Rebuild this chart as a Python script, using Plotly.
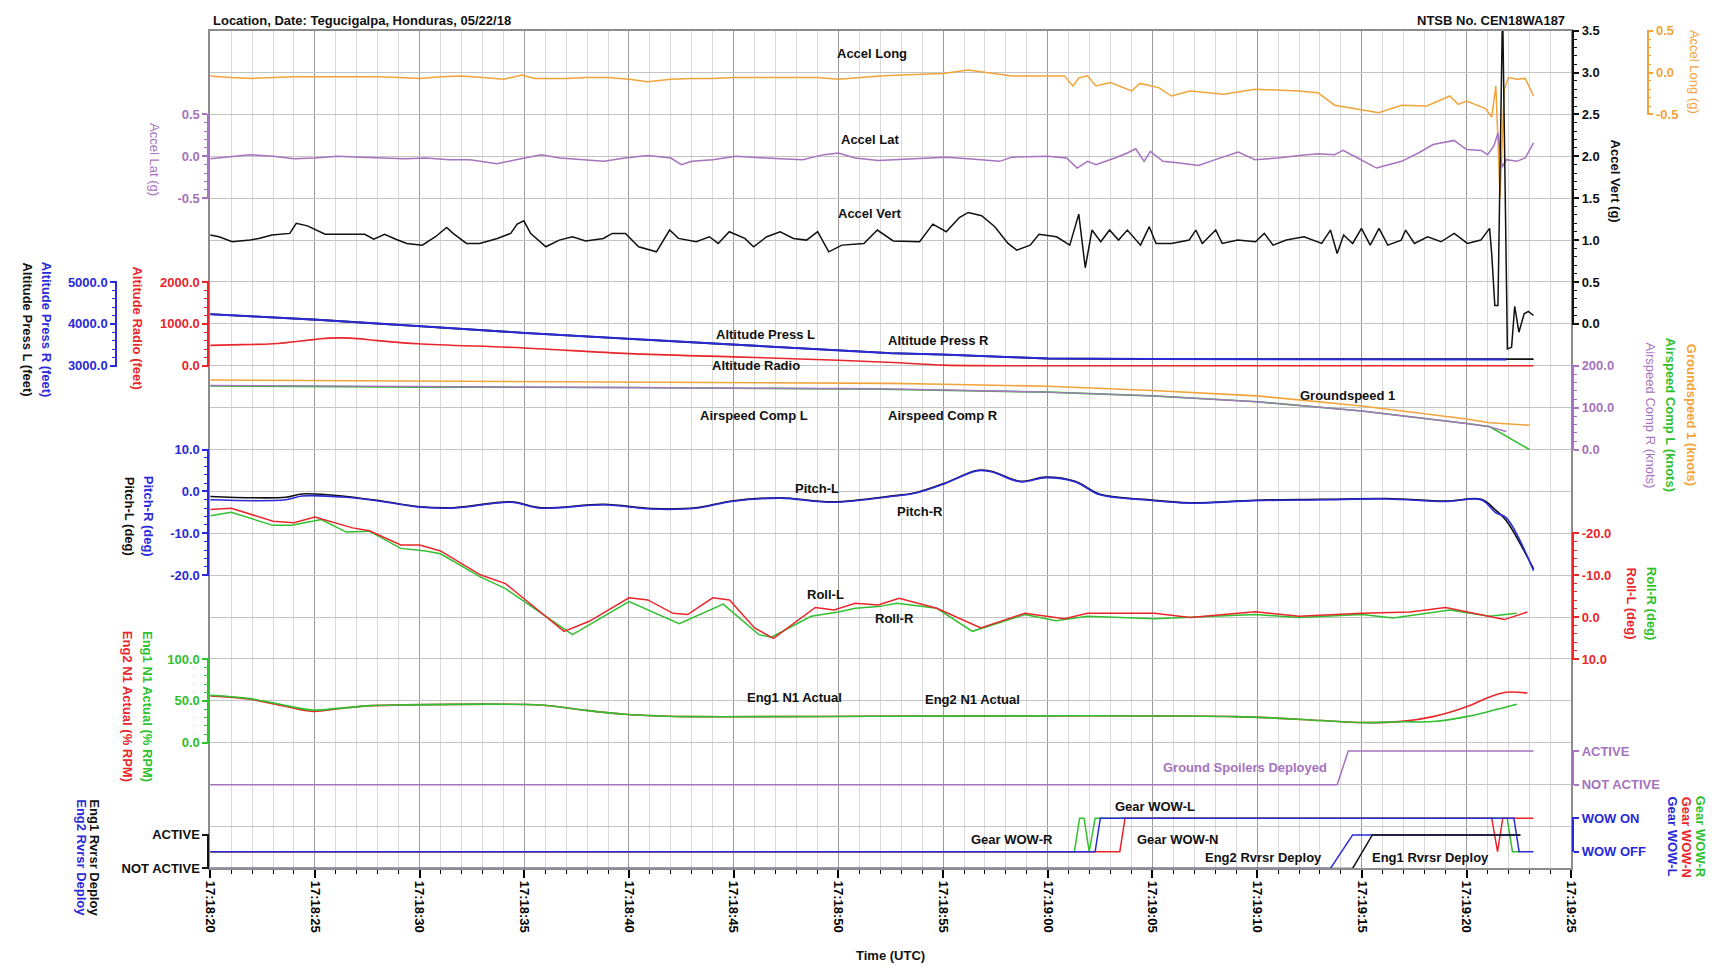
import plotly.graph_objects as go
import pandas as pd

# ---------------- data (time in seconds after 17:18:20 UTC) ----------------
BASE = "2018-05-22 17:18:20"
END = "2018-05-22 17:19:25"

accel_long_t = [0,1,2,3,4,5,6,7,8,9,10,11,12,13,14,14.9,15.5,16,17,18,19,20,20.9,22,23,24,25,26,27,28,29,30,31,32,
                33,34.1,35,36.2,37,38.3,39,40.8,41.2,41.5,41.9,42.3,43,44,44.4,45.3,45.9,46.8,48.4,49.9,52,52.9,53.7,
                55,55.8,56.9,58.1,59.2,59.6,60,60.9,61.2,61.4,61.6,61.8,62,62.4,62.8,63.2]
accel_long = [-0.04,-0.06,-0.07,-0.06,-0.05,-0.05,-0.05,-0.05,-0.05,-0.06,-0.07,-0.05,-0.04,-0.06,-0.08,-0.03,-0.07,
              -0.07,-0.07,-0.06,-0.06,-0.08,-0.11,-0.08,-0.07,-0.07,-0.06,-0.06,-0.06,-0.06,-0.06,-0.08,-0.06,-0.04,
              -0.03,-0.02,-0.01,0.03,0.0,-0.04,-0.04,-0.04,-0.16,-0.06,-0.04,-0.16,-0.12,-0.22,-0.13,-0.18,-0.28,-0.22,
              -0.26,-0.2,-0.22,-0.24,-0.39,-0.45,-0.48,-0.39,-0.40,-0.28,-0.38,-0.34,-0.43,-0.53,-0.16,-1.49,-0.2,-0.06,
              -0.08,-0.07,-0.28]

accel_lat_t = [0,1.05,1.9,3,4,5,6.1,7.2,8.2,9.3,10.3,11.4,12.4,13.7,14.6,15.8,16.7,17.7,18.8,19.8,20.9,22,22.5,23,24,
               25.1,26.2,27.2,28.3,29.3,30,30.8,31.9,32.7,34.1,35.1,36.2,37.7,38.3,40,40.9,41.4,41.9,42.3,43.2,43.8,
               44.2,44.6,44.9,45.5,46.3,47.2,48,49.1,49.9,51,52,52.9,53.7,54.1,54.8,55.7,56.9,57.7,58.4,59.4,60,60.7,
               61,61.3,61.5,61.7,61.9,62.4,62.8,63.2]
accel_lat = [-0.03,0.00,0.02,0.00,-0.03,-0.02,0.00,-0.01,-0.02,-0.03,-0.02,-0.04,-0.04,-0.09,-0.04,0.02,-0.02,-0.04,
             -0.06,-0.02,0.01,-0.02,-0.10,-0.06,-0.04,0.00,-0.02,-0.03,-0.04,0.02,0.04,-0.02,-0.05,-0.04,-0.02,-0.01,
             -0.03,-0.06,-0.01,0.00,-0.02,-0.14,-0.06,-0.10,-0.02,0.04,0.09,-0.06,0.06,-0.06,-0.08,-0.11,-0.04,0.05,
             -0.04,-0.02,0.01,0.03,0.02,0.07,-0.02,-0.14,-0.06,0.04,0.14,0.19,0.08,0.07,0.02,0.12,0.28,-0.13,-0.04,
             -0.06,-0.02,0.16]

accel_vert_t = [0,0.42,1.05,1.9,2.32,2.95,3.8,4.11,4.64,5.27,5.49,6.12,7.38,7.81,8.33,8.86,9.39,10.13,10.76,11.29,
                11.6,12.24,12.87,13.71,14.35,14.66,14.98,15.3,16.03,16.67,17.3,17.93,18.78,19.2,19.83,20.46,21.31,
                21.94,22.36,23.21,23.84,24.26,24.79,25.53,25.95,26.58,27.22,27.85,28.48,29.01,29.54,30.17,31.22,31.86,
                32.62,33.88,34.51,35.15,35.78,36.2,36.84,37.47,38.1,38.52,39.16,39.58,40.42,41.05,41.48,41.79,42.11,
                42.53,42.95,43.38,43.8,44.43,44.85,45.17,45.91,46.75,47.07,47.38,48.02,48.33,49.07,49.92,50.34,50.76,
                51.39,52.24,53.08,53.5,53.82,54.13,54.56,54.98,55.4,55.82,56.24,56.88,57.09,57.51,58.14,58.78,59.41,
                60.04,60.68,61.1,61.2,61.35,61.5,61.72,61.95,62.15,62.3,62.5,62.75,62.95,63.2]
accel_vert = [1.06,1.04,0.98,1.0,1.02,1.06,1.08,1.2,1.17,1.1,1.07,1.07,1.07,1.01,1.07,1.01,0.96,0.94,1.04,1.15,
              1.08,0.96,0.96,1.02,1.08,1.19,1.23,1.08,0.92,1.0,1.04,0.99,1.02,1.08,1.08,0.92,0.86,1.12,1.02,0.98,
              1.04,0.96,1.1,1.02,0.92,1.04,1.1,1.02,1.0,1.1,0.86,0.94,0.96,1.12,0.99,0.98,1.19,1.1,1.27,1.33,
              1.29,1.16,0.96,0.88,0.94,1.07,1.04,0.94,1.31,0.67,1.12,0.98,1.12,1.0,1.12,0.94,1.16,0.96,0.96,1.0,
              1.12,0.96,1.12,0.96,1.0,0.98,1.08,0.94,1.0,1.04,0.96,1.12,0.84,1.06,0.96,1.14,0.94,1.14,0.94,1.0,
              1.12,0.96,1.04,0.98,1.08,0.96,1.0,1.14,0.84,0.22,0.22,3.8,-0.3,-0.28,0.21,-0.1,0.12,0.15,0.1]

press_t = [0,5.1,10.1,15,20,25.1,30,32.5,35,38.3,40,45,50,55,60,61.9]
press_r = [4232,4098,3941,3784,3643,3502,3369,3300,3267,3196,3173,3160,3157,3157,3157,3150]
press_l_t = [0,5.1,10.1,15,20,25.1,30,32.5,35,38.3,40,45,50,55,60,61.9,63.2]
press_l = [4232,4098,3941,3784,3643,3502,3369,3300,3267,3196,3173,3160,3157,3157,3157,3157,3157]

radio_t = [0,1.5,3,5.7,6.7,8,9.9,15,20,25,30,32.9,35,40,63.2]
radio = [486,505,525,659,659,600,525,424,290,212,133,71,16,0,0]

gs_t = [0,10,20,32.5,35,40,45,50,55,60,61.1,63]
groundspeed = [166,164,162,158,156,151,141,128,104,73,64,58]
as_r_t = [0,10,20,30,32,40,45,50,55,60,61.1,61.9]
airspeed_r = [153,150,148,145,145,137,128,114,92,62,54,43]
as_l_t = [0,10,20,30,32,40,45,50,55,60,61.1,63]
airspeed_l = [152,149,148,145,144,137,128,114,92,62,55,0]

pitch_t = [0,3.6,4.4,6.5,8.2,9.9,11.6,14.35,15.8,18.8,21.1,23.2,24.9,27.2,29.75,32.7,33.7,35.1,36.6,37.3,
           38.7,39.9,41.3,42.5,44.6,46.8,49.9,53.1,56.2,59,60.7,61.4,61.9,63.2]
pitch_r = [-2.0,-2.0,-1.1,-1.4,-2.4,-3.7,-4.0,-2.6,-4.0,-3.2,-4.2,-4.0,-2.4,-1.6,-2.6,-1.1,-0.4,1.9,4.9,4.7,
           2.3,3.3,2.3,-0.8,-2.0,-2.8,-2.2,-2.0,-1.8,-2.4,-2.0,-5.1,-6.3,-18.9]
pitch_l = [-1.2,-1.4,-0.6,-1.2,-2.3,-3.6,-3.9,-2.5,-3.9,-3.1,-4.1,-3.9,-2.3,-1.5,-2.5,-1.0,-0.3,2.0,5.0,4.8,
           2.4,3.4,2.4,-0.7,-1.9,-2.7,-2.1,-1.9,-1.7,-2.3,-1.9,-4.5,-7.0,-18.5]

roll_l_t = [0,1,3,4,5,6.8,7.6,9.1,10,11,12.9,14.1,16.9,18.1,20,20.9,22.1,22.8,24,24.8,26,26.9,28.9,29.8,30.8,
            31.9,32.9,34.7,36.8,38.9,40.8,41.9,45.1,46.8,49.9,52,55,57.3,59,60,61.8,62.9]
roll_l = [-25.7,-26.0,-22.9,-22.5,-23.9,-21.3,-20.6,-17.2,-17.2,-15.8,-10.1,-8.0,3.4,1.0,-4.6,-4.1,-0.9,-0.6,
          -4.6,-4.1,2.6,5.1,-2.3,-1.7,-3.3,-2.9,-4.5,-2.1,2.6,-0.9,0.4,-0.9,-0.9,0.1,-1.3,-0.2,-0.9,-1.2,-2.3,
          -1.3,0.6,-1.2]
roll_r_t = [0,1,3,3.9,5.3,6.5,7.6,9.1,10.3,11,12.9,14.1,17.3,20,22.4,24.5,26.2,26.8,28.7,30,30.8,31.9,32.8,
            34.7,36.4,38.9,40.4,41.9,45.1,49.9,52,55,56.5,59.2,61.1,62.4]
roll_r = [-24.2,-25.0,-21.9,-21.9,-23.3,-20.3,-20.5,-16.4,-15.8,-15.1,-9.6,-6.8,4.2,-3.7,1.6,-3.1,4.2,4.8,
          -0.2,-1.2,-2.1,-2.5,-3.3,-2.1,3.4,-0.6,0.9,-0.2,0.4,-0.6,0.1,-0.6,0.2,-1.7,-0.2,-0.9]

n1_eng1_t = [0,1.9,3.5,4.9,6.1,7.5,8.9,15.8,17.5,19.8,21.5,23,48.9,53.1,55,56.9,58.4,60,61.5,62.4]
n1_eng1 = [56.7,52.7,45,39,41,44,45,45,40,34,32,31.2,31.2,26.5,24.1,25,25.3,31.2,40.2,46]
n1_eng2_t = [0,1.9,3.5,4.9,6.1,7.5,8.9,15.8,17.5,19.8,21.5,23,48.9,53.1,55,56.9,58.4,60,61.1,61.9,62.9]
n1_eng2 = [56,52,44,37.5,40.5,44,45,45,40,34,32,31.2,31.2,26.5,24.1,25.5,31.2,43,54.7,60.3,59.4]

spoiler_t = [0,53.82,54.35,63.2]
spoiler = [0,0,1,1]

wow_r_t = [0,41.27,41.52,41.73,41.98,42.26,61.94,62.19,62.5]
wow_r = [0,0,1,1,0,1,1,0,0]
wow_n_t = [0,43.44,43.69,61.2,61.48,61.73,63.2]
wow_n = [0,0,1,1,0,1,1]
wow_l_t = [0,42.26,42.51,62.26,62.51,63.2]
wow_l = [0,0,1,1,0,0]

rev2_t = [0,53.5,54.56,62.57]
rev2 = [0,0,1,1]
rev1_t = [0,54.56,55.5,62.57]
rev1 = [0,0,1,1]

# ---------------- styling / geometry ----------------
W, H = 1722, 972
X0, X1 = 205, 1578
Y_TOP, Y_BOT = 24, 874
NG = 20
GS = (Y_BOT - Y_TOP) / NG
FONT = "Liberation Sans, Arial, sans-serif"

ORANGE = "#F2A43A"
PURPLE = "#A673BE"
BLACK = "#111111"
BLUE = "#2A2AD8"
RED = "#E8262B"
GREEN = "#30C030"

def gp(g):
    return (H - Y_BOT + g * GS) / H

def ts(sec):
    b = pd.Timestamp(BASE)
    return [(b + pd.Timedelta(seconds=float(s))).strftime("%Y-%m-%d %H:%M:%S.%f")[:-3] for s in sec]

# scale: (grid row of reference, reference value, units per grid row)
scales = dict(
    long=(19, 0.0, 0.5), lat=(17, 0.0, 0.5), vert=(13, 0.0, 0.5),
    press=(12, 3000.0, 1000.0), radio=(12, 0.0, 1000.0), speed=(10, 0.0, 100.0),
    pitch=(9, 0.0, 10.0), roll=(6, 0.0, -10.0), n1=(3, 0.0, 50.0),
    spoil=(2, 0.0, 1.25), wow=(0.4, 0.0, 1.25), rev=(0, 0.0, 1.25))

def val(key, g):
    gr, vr, u = scales[key]
    return vr + (g - gr) * u

fig = go.Figure()
layout = {}

layout["xaxis"] = dict(
    type="date", domain=[X0 / W, X1 / W], range=[BASE, END], anchor="y",
    tickmode="linear", tick0=BASE, dtick=5000, tickformat="%H:%M:%S", tickangle=90,
    ticks="outside", ticklen=8, tickcolor="black", tickwidth=1.5,
    tickfont=dict(family=FONT, size=13, color="black", weight="bold"),
    showgrid=True, gridcolor="#9c9c9c", gridwidth=1.3,
    minor=dict(tick0=BASE, dtick=1000, showgrid=True, gridcolor="#dadada", gridwidth=1,
               ticks="outside", ticklen=4, tickcolor="black", tickwidth=1.2),
    showline=True, linecolor="#8c8c8c", linewidth=1.5, mirror=True, zeroline=False, fixedrange=True)
layout["xaxis2"] = dict(type="date", domain=[X0 / W, X1 / W], range=[BASE, END], anchor="y",
                        visible=False, showgrid=False, fixedrange=True)
layout["yaxis"] = dict(
    domain=[gp(0), gp(NG)], range=[0, NG], tickmode="linear", tick0=0, dtick=1,
    showgrid=True, gridcolor="#c4c4c4", gridwidth=1, showticklabels=False, ticks="",
    showline=True, linecolor="#8c8c8c", linewidth=1.5, mirror=True, zeroline=False, fixedrange=True)

# hidden data axes, one per scale
data_ax = {}
n = 2
for key in scales:
    layout["yaxis%d" % n] = dict(overlaying="y", anchor="x", range=[val(key, 0), val(key, NG)],
                                 visible=False, showgrid=False, zeroline=False, fixedrange=True)
    data_ax[key] = "y%d" % n
    n += 1

def fmt(v, d=1):
    return ("%." + str(d) + "f") % v

# visible scale brackets
disp = [
    ("lat", 16, 18, "left", 203, PURPLE, [-0.5, 0, 0.5], None, 0.1),
    ("radio", 12, 14, "left", 203, RED, [0, 1000, 2000], None, 200),
    ("press", 12, 14, "left", 110, BLUE, [3000, 4000, 5000], None, 200),
    ("pitch", 7, 10, "left", 203, BLUE, [-20, -10, 0, 10], None, 2),
    ("n1", 3, 5, "left", 203, GREEN, [0, 50, 100], None, 10),
    ("rev", 0, 0.8, "left", 203, BLACK, [0, 1], ["NOT ACTIVE", "ACTIVE"], None),
    ("vert", 13, 20, "right", 1580, BLACK, [0, 0.5, 1, 1.5, 2, 2.5, 3, 3.5], None, 0.1),
    ("long", 18, 20, "right", 1655, ORANGE, [-0.5, 0, 0.5], None, 0.1),
    ("speed", 10, 12, "right", 1580, PURPLE, [0, 100, 200], None, 20),
    ("roll", 5, 8, "right", 1580, RED, [-20, -10, 0, 10], None, 2),
    ("spoil", 2, 2.8, "right", 1580, PURPLE, [0, 1], ["NOT ACTIVE", "ACTIVE"], None),
    ("wow", 0.4, 1.2, "right", 1580, BLUE, [0, 1], ["WOW OFF", "WOW ON"], None),
]
e = 0.02
for key, glo, ghi, side, xpx, col, tv, tt, mdt in disp:
    ax = dict(
        anchor="free", position=xpx / W, side=side,
        domain=[gp(glo - e), gp(ghi + e)], range=[val(key, glo - e), val(key, ghi + e)],
        showline=True, linecolor=col, linewidth=1.6, showgrid=False, zeroline=False,
        ticks="outside", ticklen=5, tickwidth=1.5, tickcolor=col,
        tickmode="array", tickvals=tv, ticktext=tt if tt else [fmt(v) for v in tv],
        tickfont=dict(family=FONT, size=13, color=col, weight="bold"), fixedrange=True)
    if mdt:
        ax["minor"] = dict(ticks="outside", ticklen=3, tickcolor=col, tickwidth=1, tick0=0, dtick=mdt)
    layout["yaxis%d" % n] = ax
    fig.add_trace(go.Scatter(x=ts([0]), y=[None], xaxis="x2", yaxis="y%d" % n, mode="lines",
                             showlegend=False, hoverinfo="skip"))
    n += 1

def line(t, v, key, col, width=1.5, shape="linear"):
    fig.add_trace(go.Scatter(x=ts(t), y=v, xaxis="x", yaxis=data_ax[key], mode="lines",
                             line=dict(color=col, width=width, shape=shape),
                             showlegend=False, hoverinfo="skip"))

fig.add_trace(go.Scatter(x=ts([0]), y=[None], xaxis="x", yaxis="y", mode="lines",
                         showlegend=False, hoverinfo="skip"))

line(press_l_t, press_l, "press", BLACK, 1.8)
line(press_t, press_r, "press", BLUE, 2.0)
line(radio_t, radio, "radio", RED, 1.6, "spline")
line(gs_t, groundspeed, "speed", ORANGE, 1.6)
line(as_l_t, airspeed_l, "speed", GREEN, 1.6)
line(as_r_t, airspeed_r, "speed", PURPLE, 1.4)
line(pitch_t, pitch_l, "pitch", BLACK, 1.6, "spline")
line(pitch_t, pitch_r, "pitch", BLUE, 1.6, "spline")
line(roll_r_t, roll_r, "roll", GREEN, 1.5)
line(roll_l_t, roll_l, "roll", RED, 1.5)
line(n1_eng2_t, n1_eng2, "n1", RED, 1.6, "spline")
line(n1_eng1_t, n1_eng1, "n1", GREEN, 1.6, "spline")
line(spoiler_t, spoiler, "spoil", PURPLE, 1.5)
line(rev2_t, rev2, "rev", BLUE, 1.5)
line(rev1_t, rev1, "rev", BLACK, 1.5)
line(wow_r_t, wow_r, "wow", GREEN, 1.5)
line(wow_n_t, wow_n, "wow", RED, 1.5)
line(wow_l_t, wow_l, "wow", BLUE, 1.5)
line(accel_long_t, accel_long, "long", ORANGE, 1.5)
line(accel_lat_t, accel_lat, "lat", PURPLE, 1.5)
line(accel_vert_t, accel_vert, "vert", BLACK, 1.5)

ann = []
def txt(x, y, s, col=BLACK, size=13, xref="paper", yref="paper", angle=0, xa="center", bold=True):
    ann.append(dict(x=x, y=y, xref=xref, yref=yref, text=s, showarrow=False, textangle=angle,
                    xanchor=xa, yanchor="middle",
                    font=dict(family=FONT, size=size, color=col, weight="bold" if bold else "normal")))

# header and footer
txt(206 / W, 1 - 14 / H, "Location, Date: Tegucigalpa, Honduras, 05/22/18", xa="left")
txt(1574 / W, 1 - 14 / H, "NTSB No. CEN18WA187", xa="right")
txt((X0 + X1) / 2 / W, 1 - 962 / H, "Time (UTC)")

# in-plot parameter labels (time seconds, grid row)
labels = [
    (31.6, 19.46, "Accel Long", BLACK), (31.5, 17.4, "Accel Lat", BLACK), (31.5, 15.64, "Accel Vert", BLACK),
    (26.5, 12.75, "Altitude Press L", BLACK), (34.8, 12.6, "Altitude Press R", BLACK),
    (26.05, 12.0, "Altitude Radio", BLACK), (54.3, 11.28, "Groundspeed 1", BLACK),
    (25.95, 10.81, "Airspeed Comp L", BLACK), (35.0, 10.81, "Airspeed Comp R", BLACK),
    (29.0, 9.08, "Pitch-L", BLACK), (33.9, 8.52, "Pitch-R", BLACK),
    (29.4, 6.55, "Roll-L", BLACK), (32.7, 5.96, "Roll-R", BLACK),
    (27.9, 4.08, "Eng1 N1 Actual", BLACK), (36.4, 4.03, "Eng2 N1 Actual", BLACK),
    (49.4, 2.4, "Ground Spoilers Deployed", PURPLE),
    (45.1, 1.47, "Gear WOW-L", BLACK), (38.3, 0.70, "Gear WOW-R", BLACK), (46.2, 0.70, "Gear WOW-N", BLACK),
    (50.3, 0.26, "Eng2 Rvrsr Deploy", BLACK), (58.3, 0.26, "Eng1 Rvrsr Deploy", BLACK),
]
for t, g, s, c in labels:
    txt(ts([t])[0], g, s, c, xref="x", yref="y")

# axis titles (rotated, reading downward)
titles = [
    (149, 155, "Accel Lat (g)", PURPLE, False),
    (40, 327, "Altitude Press R (feet)", BLUE, True),
    (21, 327, "Altitude Press L (feet)", BLACK, True),
    (132, 326, "Altitude Radio (feet)", RED, True),
    (143, 517, "Pitch-R (deg)", BLUE, True),
    (124, 517, "Pitch-L (deg)", BLACK, True),
    (141, 710, "Eng1 N1 Actual (% RPM)", GREEN, True),
    (121, 710, "Eng2 N1 Actual (% RPM)", RED, True),
    (88, 863, "Eng1 Rvrsr Deploy", BLACK, True),
    (75, 863, "Eng2 Rvrsr Deploy", BLUE, True),
    (1703, 66, "Accel Long (g)", ORANGE, False),
    (1623, 177, "Accel Vert (g)", BLACK, True),
    (1700, 414, "Groundspeed 1 (knots)", ORANGE, True),
    (1679, 414, "Airspeed Comp L (knots)", GREEN, True),
    (1658, 414, "Airspeed Comp R (knots)", PURPLE, False),
    (1659, 605, "Roll-R (deg)", GREEN, True),
    (1639, 605, "Roll-L (deg)", RED, True),
    (1708, 842, "Gear WOW-R", GREEN, True),
    (1694, 842, "Gear WOW-N", RED, True),
    (1680, 842, "Gear WOW-L", BLUE, True),
]
for xp, yp, s, c, b in titles:
    txt(xp / W, 1 - yp / H, s, c, angle=90, bold=b)

fig.update_layout(
    width=W, height=H, margin=dict(l=0, r=0, t=0, b=0),
    paper_bgcolor="white", plot_bgcolor="rgba(0,0,0,0)",
    showlegend=False, annotations=ann, **layout)

fig.write_html("out.html", config={"displayModeBar": False},
               post_script="document.body.style.margin='0';document.body.style.overflow='hidden';")
